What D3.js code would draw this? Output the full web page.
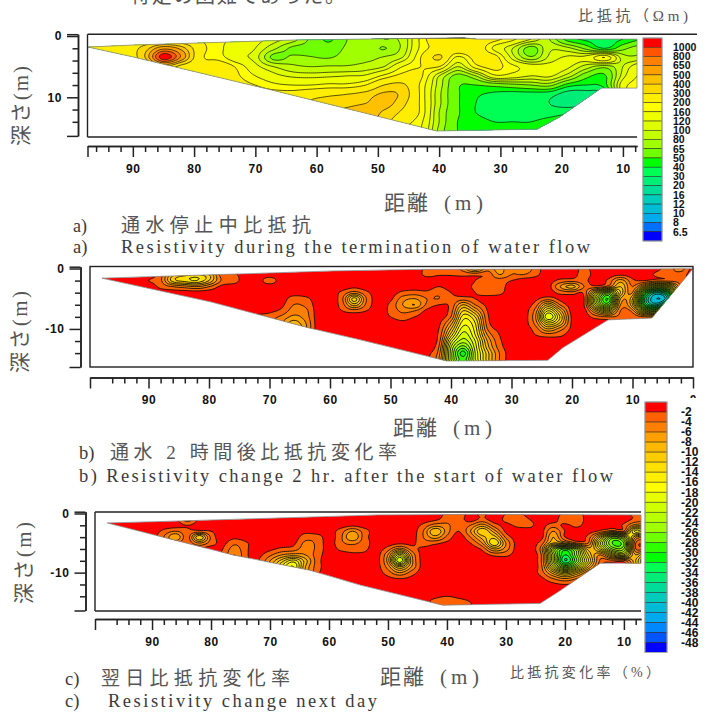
<!DOCTYPE html>
<html><head><meta charset="utf-8">
<script src="https://cdn.jsdelivr.net/npm/d3@7/dist/d3.min.js"></script>
<style>
html,body{margin:0;padding:0;background:#fff}
svg{display:block}
.cjk{font-family:"Liberation Serif","Noto Sans CJK JP",serif;fill:#555}
.en{font-family:"Liberation Serif",serif;fill:#3a3a3a}
.tick text,.lg{font-family:"Liberation Sans",Arial,sans-serif;font-weight:700;fill:#111}
</style></head><body>
<svg id="c" width="709" height="715"></svg>
<script>
// ---------- legend data ----------
const resistivityLevels=[1000,800,650,500,400,300,200,160,120,100,80,65,50,40,30,20,16,12,10,8,6.5];
const resistivityLabels=["1000","800","650","500","400","300","200","160","120","100","80","65","50","40","30","20","16","12","10","8","6.5"];
const resistivityColors=["#ff0000","#ff5500","#ff8000","#ffa000","#ffc000","#ffd800","#ffee00","#ffff00","#eeff00","#ddff00","#c4ff00","#a0ff00","#70ff00","#00ff00","#00ff55","#00ee77","#00dd99","#00ccbb","#00bbd5","#00aaee","#0070ff","#0000ff"];
const changeLevels=[-2,-4,-6,-8,-10,-12,-14,-16,-18,-20,-22,-24,-26,-28,-30,-32,-34,-36,-38,-40,-42,-44,-46,-48];
const changeColors=["#ff0000","#ff6000","#ff8000","#ffa000","#ffb800","#ffcc00","#ffe000","#fff000","#ffff00","#e8ff00","#d0ff00","#b8ff00","#a0ff00","#70ff00","#30ff00","#00ff00","#00ff55","#00ee77","#00dd99","#00ccbb","#00bbd5","#00aaee","#0088ff","#0055ff","#0000ff"];
// ---------- section outlines [distance m, depth m] ----------
const sectionA=[[97.3,1.8],[90,1.47],[75.8,1.03],[63.8,.65],[36,.28],[34,.5],[7.7,.5],[7.7,8.5],[13.5,8.5],[20.3,13.2],[24,15.2],[40.4,15.5],[53,12.35],[68,8.65],[90,3.4]];
const sectionB=[[97.7,1.6],[89.8,1.35],[74.9,.9],[59.5,.4],[45.6,.15],[0,.05],[6.8,8.2],[14,8.5],[21.5,13.1],[24,15.2],[40.7,15.3],[55,11.8],[63.6,9.8],[79.8,5.5]];
const sectionC=[[97.6,1.6],[89.8,1.4],[59.8,.5],[51.9,.25],[35.6,.15],[7.1,.25],[7.1,8.4],[14,8.4],[21.2,13.3],[24.2,15.2],[40.7,15.5],[54.7,12.1],[63.2,9.6],[76.3,7]];
// ---------- panel a: resistivity (ohm m). Columns 97,94,...,7 m; rows depth .5,2,...,15.5 m ----------
const resistivityRows=[
[220,220,220,220,230,220,200,170,150,130,110,90,62,48,65,75,80,85,170,260,270,260,220,170,120,80,45,38,35,40,50],
[220,220,240,350,600,450,230,170,140,120,85,62,60,56,68,75,64,85,170,230,270,260,150,100,58,95,85,60,40,60,75],
[220,220,230,400,1150,600,220,180,130,110,60,68,66,64,72,75,82,100,200,320,150,230,230,110,68,105,125,130,200,90,85],
[220,220,220,250,400,260,220,260,190,130,100,85,80,82,82,88,100,160,200,200,100,180,220,170,140,130,125,90,70,100,150],
[240,240,240,240,240,240,240,280,210,160,130,115,112,115,120,125,170,220,210,100,60,80,150,140,120,125,90,55,48,110,170],
[250,250,250,250,250,250,250,280,230,200,170,160,160,170,170,200,300,320,190,90,52,50,55,60,65,70,45,40,45,140,180],
[250,250,250,250,250,250,250,280,250,240,230,230,260,280,300,340,420,370,190,85,52,42,38,36,36,34,26,26,30,140,180],
[250,250,250,250,250,250,250,280,260,260,270,290,320,350,370,400,450,330,190,85,52,40,36,34,34,30,26,28,30,140,180],
[250,250,250,250,250,250,250,280,300,300,320,340,370,400,430,470,380,280,190,80,52,40,35,34,34,35,38,40,40,140,180],
[250,250,250,250,250,250,250,280,300,300,320,340,370,400,430,450,340,230,170,80,50,45,40,40,40,45,50,50,50,140,180],
[250,250,250,250,250,250,250,280,300,300,320,340,370,400,430,450,320,200,160,75,50,46,45,45,45,50,55,55,55,140,180]
];
// ---------- panels b, c: resistivity change (%), local grids on a 2 m x 1 m lattice.
// Each entry: first column's distance, first row's depth, values (columns run towards smaller distance).
const changePatchesB=[
[90,1,[[-1,-3,-9,-11,-12,-10,-3,-2.5,-1],[-2,-3.5,-11,-13,-14,-10,-4,-3,-1],[-1,-2.5,-4,-5,-6,-4,-1.5,-1,-1],[-1,-1,-1,-1,-1,-1,-1,-1,-1]]],
[72,1,[[-1,-1,-1],[-1,-3,-1],[-1,-1,-1]]],
[74,4,[[-1,-1,-1,-1,-1,-1,-1],[-1,-1,-1,-1,-3,-2.5,-1],[-1,-1,-1,-1.5,-4,-3.5,-1],[-1,-1,-1.5,-2.5,-5,-4.5,-1],[-1,-2.5,-3,-4.5,-6.5,-5,-1],[-1,-2,-4,-6,-9,-6,-1],[-1,-1,-4,-7,-10,-6,-1]]],
[60,3,[[-1,-1,-1.5,-1,-1],[-1,-2.5,-5,-2.5,-1],[-1,-3.5,-13,-4,-1],[-1,-3,-9,-3.5,-1],[-1,-2,-3,-2,-1],[-1,-1,-1,-1,-1]]],
[50,3,[[-1,-1,-1,-1],[-1,-2.5,-3,-2.5],[-1.5,-5,-6,-4],[-2.5,-6,-8,-3.5],[-2.5,-4.5,-4,-1.5],[-2,-3,-2,-1],[-1,-1.5,-1,-1]]],
[44,3,[[-1,-2,-1],[-1.5,-3.5,-2],[-2,-4,-2.5],[-1,-2,-2.5]]],
[44,4,[[-1,-1,-1,-1,-1,-1,-1,-1],[-1,-1,-1.5,-3,-2,-1,-1,-1],[-1,-1,-2.5,-8,-4,-1.5,-1,-1],[-1,-1,-3,-12,-8,-2,-1,-1],[-1,-1,-4,-15,-12,-2.5,-1,-1],[-1,-1.5,-7,-17,-14,-3,-1,-1],[-1,-2,-10,-19,-15,-4,-1.5,-1],[-1,-2.5,-13,-21,-16,-6,-2,-1],[-1,-3,-17,-23,-18,-8,-2.5,-1],[-1,-4,-20,-27,-19,-9,-3,-1],[-1.5,-5,-21,-31,-20,-11,-4,-1],[-1.5,-6,-21,-29,-20,-11,-4,-1],[-1.5,-6,-21,-29,-20,-11,-4,-1]]],
[46,0,[[-1,-2.5,-3,-3,-5,-10,-5,-7,-4,-6,-3,-1],[-1,-2.5,-2.2,-2.2,-2.5,-2.5,-2.5,-6,-4,-4,-2.5,-1],[-1,-1,-1,-1,-1,-2,-3,-3,-2,-1,-1,-1],[-1,-1,-1,-1,-1,-2.5,-3.5,-3,-1,-1,-1,-1],[-1,-1,-1,-1,-1,-2,-3,-2.5,-1,-1,-1,-1]]],
[24,1,[[-1,-1,-1,-1,-1],[-1,-2.5,-3,-2.5,-1],[-1,-6,-9,-4,-1],[-1,-2.5,-3,-2.5,-1],[-1,-1,-1,-1,-1]]],
[28,4,[[-1,-1,-1,-1,-1],[-1,-1.5,-3,-1.5,-1],[-1,-3,-10,-4,-1],[-1,-5,-16,-9,-1],[-1,-6,-20,-12,-1.5],[-1,-5,-14,-10,-1.5],[-1,-3,-8,-5,-1.5],[-1,-2,-3,-2.5,-1],[-1,-1,-1,-1,-1]]],
[18,1,[[-1,-1,-1,-1.5,-1,-1],[-1,-1,-2.5,-7,-2.5,-1],[-1,-2.5,-5,-10,-4,-1],[-1.5,-14,-24,-12,-3,-1.5],[-2,-20,-30,-8,-3,-3],[-2,-18,-26,-6,-1,-4],[-1,-9,-14,-4,-1,-3],[-1,-3,-4,-3.5,-2.5,-2.5],[-1,-1,-1,-2.5,-2.5,-2.5]]],
[10,2,[[-1,-2,-3,-3,-3],[-2.5,-12,-20,-16,-4],[-6,-28,-38,-30,-5],[-10,-34,-42,-36,-5],[-10,-32,-38,-26,-3],[-5,-18,-22,-8,-1],[-2.5,-4,-4,-2,-1]]],
[6,0,[[-1.5,-3,-5,-1],[-2.5,-3.5,-3,-1],[-3,-3,-1,-1]]],
[20,0,[[-1,-2.5,-1],[-1,-3,-1],[-1,-1,-1]]]
];
const changePatchesC=[
[86,0,[[-1,-3,-1],[-1.5,-5,-1.5],[-1,-2,-1],[-1,-1,-1]]],
[90,3,[[-1,-2.5,-4,-2.5],[-1,-4,-8,-3],[-1,-2.5,-4,-1.5],[-1,-1,-1,-1]]],
[84,3,[[-1,-2.5,-2,-1],[-2.5,-12,-3.5,-1],[-2.5,-6,-3,-1],[-1,-1.5,-1,-1]]],
[78,4,[[-1,-1.5,-1,-1],[-1.5,-3.5,-2.2,-1],[-2,-5,-2.3,-1],[-2.5,-6,-2.3,-1],[-2.5,-6,-2.3,-1]]],
[74,3,[[-1,-1,-1,-1,-1,-1.5,-1,-1],[-1,-1,-1,-1,-1,-3,-3,-1],[-1,-1,-1,-1,-1.5,-4.5,-3.5,-1],[-1,-1,-1.5,-2.5,-3,-5,-3.5,-1],[-1,-1.5,-3.5,-6,-7,-6,-3,-1],[-1,-1.9,-6,-11,-15,-9,-3,-1],[-1,-1.9,-7,-14,-18,-8,-3,-1],[-1,-1.9,-6,-12,-14,-7,-2.5,-1]]],
[60,2,[[-1,-1,-1.5,-1,-1],[-1,-3,-6,-3,-1],[-1,-3.5,-8,-3,-1],[-1,-3.5,-4.5,-3,-1],[-1,-2.5,-3,-2.5,-1],[-1,-1,-1.5,-1.5,-1],[-1,-1,-1,-1,-1]]],
[52,5,[[-1,-1,-1.5,-1,-1],[-1,-3,-7,-3,-1],[-1,-6,-17,-6,-1],[-1,-7,-22,-7,-1],[-1,-5,-12,-6,-1],[-1,-3,-6,-3,-1],[-1,-1.5,-2,-1.5,-1],[-1,-1,-1,-1,-1]]],
[46,0,[[-1,-1,-1,-2.5,-3,-1.5,-1],[-1,-1,-1.5,-3,-3,-1,-1],[-1,-2.5,-5,-4.5,-2.5,-1,-1],[-1,-4,-10,-5,-2,-1,-1],[-1,-4,-7,-3.5,-1,-1,-1],[-1.5,-3,-2.5,-1.5,-1,-1,-1],[-1,-1.5,-1,-1,-1,-1,-1]]],
[38,0,[[-1,-1,-2.5,-1,-1,-1],[-1,-1,-2.5,-1,-1,-1],[-1,-4,-7,-3,-1,-1],[-1.5,-6,-12,-7,-1.5,-1],[-1,-4,-9,-11,-3.5,-1],[-1,-2,-6,-14,-6,-1],[-1,-1,-2.5,-8,-5,-1],[-1,-1,-1,-2.5,-2.5,-1],[-1,-1,-1,-1,-1,-1]]],
[32,0,[[-1,-2,-2.5,-1,-1],[-1,-2.5,-3.5,-2,-1],[-1,-1.5,-2.5,-2.5,-1],[-1,-1,-1,-1,-1]]],
[26,1,[[-1,-1,-1,-1,-1,-1,-1],[-1,-1.2,-3,-1.5,-1,-1,-1],[-1,-1.2,-6,-2,-1,-1,-1],[-1,-1.2,-8,-2,-1,-1,-1],[-1,-3,-10,-8,-4,-2,-1],[-1,-5,-22,-28,-22,-9,-2.5],[-1,-4,-20,-32,-24,-12,-3.5],[-1,-4,-20,-34,-26,-14,-3.5],[-1,-3.5,-16,-26,-20,-10,-2.5],[-1,-3,-9,-14,-10,-4,-1],[-1,-1.5,-4,-6,-4,-1.5,-1],[-1,-1,-1.5,-2,-1.5,-1,-1]]],
[18,2,[[-1,-1,-1,-1,-1,-1],[-1,-1,-2.5,-5,-3,-1],[-1,-3,-12,-24,-20,-3],[-1,-4,-18,-28,-26,-4],[-1,-3.5,-14,-24,-24,-4],[-1,-2.5,-6,-14,-18,-3],[-1,-1.5,-3,-3,-3,-1.5],[-1,-1,-1,-1,-1,-1]]],
[12,0,[[-1,-1,-3,-3,-3],[-1,-1,-2.5,-3,-3],[-1,-2.5,-7,-7,-6],[-1,-4,-17,-12,-8],[-1,-3,-8,-6,-5],[-1,-2.5,-3,-3,-3],[-1,-1,-2.5,-6,-10],[-1,-1,-8,-16,-20],[-1,-1,-10,-20,-24],[-1,-1,-8,-16,-20]]],
[22,0,[[-1,-2.5,-3,-1],[-1,-3.5,-3.5,-1],[-1,-1.5,-2.5,-1],[-1,-1,-1,-1]]],
[44,13,[[-1,-1,-1,-1,-1],[-1,-1.5,-2,-1.5,-1],[-1,-3,-3.5,-3,-2],[-1,-3,-3.5,-3,-2]]]
];
// ---------- axis text ----------
const majorTicks=[90,80,70,60,50,40,30,20,10];
const minorTicks=d3.range(2,98,2).filter(d=>d%10);
const depthMinor=[2,4,6,8,12,14];

const svg=d3.select("#c");
// ---- grid helpers -------------------------------------------------
const cr=(a,b,c,d,t)=>0.5*(2*b+(c-a)*t+(2*a-5*b+4*c-d)*t*t+(3*b-a-3*c+d)*t*t*t);
function upsample(grid,fx,fy){
  const R=grid.length,C=grid[0].length,n=(C-1)*fx+1,m=(R-1)*fy+1,out=new Float64Array(n*m);
  const g=(r,c)=>grid[Math.max(0,Math.min(R-1,r))][Math.max(0,Math.min(C-1,c))];
  for(let j=0;j<m;j++){const gy=j/fy,r=Math.floor(gy),ty=gy-r;
    for(let i=0;i<n;i++){const gx=i/fx,c=Math.floor(gx),tx=gx-c;
      const col=[-1,0,1,2].map(k=>cr(g(r+k,c-1),g(r+k,c),g(r+k,c+1),g(r+k,c+2),tx));
      out[j*n+i]=cr(col[0],col[1],col[2],col[3],ty);}}
  return {values:out,n,m};
}
function drawField(g,P,field,d0,dStep,z0,zStep,fx,fy,thresholds,colors,poly,lw){
  const up=upsample(field,fx,fy);
  const tr=d3.geoTransform({point(x,y){this.stream.point(P.x(d0+(x-.5)*dStep/fx),P.y(z0+(y-.5)*zStep/fy));}});
  const path=d3.geoPath(tr);
  const id="clip"+P.name;
  const line=d3.line().x(d=>P.x(d[0])).y(d=>P.y(d[1])).curve(d3.curveLinearClosed);
  g.append("clipPath").attr("id",id).append("path").attr("d",line(poly));
  const body=g.append("g").attr("clip-path",`url(#${id})`);
  body.append("path").attr("d",line(poly)).attr("fill",colors[0]);
  const cs=d3.contours().size([up.n,up.m]).thresholds(thresholds)(up.values);
  cs.forEach((c,i)=>body.append("path").attr("d",path(c)).attr("fill",colors[i+1])
      .attr("stroke","#111").attr("stroke-width",lw).attr("stroke-linejoin","round"));
  g.append("path").attr("d",line(poly)).attr("fill","none").attr("stroke","#888").attr("stroke-width",.8);
}
function patchGrid(patches){
  const ds=d3.range(100,-2,-2), zs=d3.range(0,18);
  const grid=zs.map(()=>ds.map(()=>1));
  patches.forEach(([d,z,rows])=>rows.forEach((row,r)=>row.forEach((v,c)=>{
    const ri=z+r,ci=(100-d)/2+c;
    if(grid[ri]&&grid[ri][ci]!==undefined) grid[ri][ci]=Math.max(grid[ri][ci],-v);
  })));
  return grid;
}
function axes(g,P,yLabel){
  const axX=g.append("g").attr("transform",`translate(0,${P.axisY})`);
  const minor=d3.axisBottom(P.x).tickValues(minorTicks.filter(d=>d<P.x.domain()[0]&&d>P.x.domain()[1]))
     .tickSize(6).tickSizeOuter(0).tickFormat("");
  const major=d3.axisBottom(P.x).tickValues(majorTicks.concat(P.extraMajor)).tickSize(11).tickSizeOuter(0).tickPadding(7)
     .tickFormat(d=>majorTicks.includes(d)||d===0?d:"");
  axX.append("g").call(minor); axX.append("g").call(major);
  const axY=g.append("g").attr("transform",`translate(${P.axisX},0)`);
  axY.append("g").call(d3.axisLeft(P.y).tickValues(depthMinor).tickSize(5.5).tickSizeOuter(0).tickFormat(""));
  axY.append("g").call(d3.axisLeft(P.y).tickValues([P.y.domain()[0],0,10,P.y.domain()[1]]).tickSize(11).tickSizeOuter(0).tickPadding(5)
     .tickFormat(d=>d===0?"0":d===10?yLabel:""));
  g.selectAll(".domain,.tick line").attr("stroke","#222").attr("stroke-width",1.5);
  g.selectAll(".tick text").attr("font-size",12).attr("letter-spacing",.6).attr("font-family","Liberation Sans,Arial,sans-serif");
}
function txt(cls,x,y,s,size,len){
  const t=svg.append("text").attr("class",cls).attr("x",x).attr("y",y).attr("font-size",size).text(s);
  if(len) t.attr("textLength",len).attr("lengthAdjust","spacing");
  return t;
}
function vtitle(x,y,len){
  svg.append("text").attr("class","cjk").attr("font-size",21).attr("text-anchor","start")
    .attr("transform",`translate(${x},${y}) rotate(-90)`).attr("textLength",len).attr("lengthAdjust","spacing").text("深さ(m)");
}
function xtitle(x,y){
  txt("cjk",x,y,"距離",21,44);
  txt("cjk",x+60,y,"(",21);
  txt("cjk",x+71,y,"m",21,19);
  txt("cjk",x+92,y,")",21);
}

// ---- panels ---------------------------------------------------------
const PA={name:"A",x:d3.scaleLinear([97.4,7.7],[87.5,637]),y:d3.scaleLinear([-.3,16.3],[34.2,135.9]),axisY:146,axisX:78,extraMajor:[97.4]};
const PB={name:"B",x:d3.scaleLinear([99.67,0],[90,693]),y:d3.scaleLinear([-.3,16.3],[266.7,367]),axisY:377.5,axisX:80.5,extraMajor:[99.67,0]};
const PC={name:"C",x:d3.scaleLinear([99.67,7.1],[95,641]),y:d3.scaleLinear([-.3,16.4],[511.7,610.5]),axisY:619,axisX:85.5,extraMajor:[99.67]};

const gA=svg.append("g"),gB=svg.append("g"),gC=svg.append("g");
drawField(gA,PA,resistivityRows.map(r=>r.map(Math.log10)),97,-3,.5,1.5,9,5,
  resistivityLevels.slice().reverse().map(Math.log10),resistivityColors.slice().reverse(),sectionA,.7);
const thrChange=changeLevels.map(v=>-v);
drawField(gB,PB,patchGrid(changePatchesB),100,-2,0,1,6,3,thrChange,changeColors,sectionB,.9);
drawField(gC,PC,patchGrid(changePatchesC),100,-2,0,1,6,3,thrChange,changeColors,sectionC,.9);
axes(gA,PA,"10"); axes(gB,PB,"-10"); axes(gC,PC,"-10");

// frames
const ln=(x1,y1,x2,y2)=>svg.append("line").attr("x1",x1).attr("y1",y1).attr("x2",x2).attr("y2",y2).attr("stroke","#222").attr("stroke-width",1.4);
ln(87.5,34.3,697,34.3);ln(87.5,34.3,87.5,137);ln(87.5,137,637,137);
svg.append("rect").attr("x",90).attr("y",266.5).attr("width",603).attr("height",100.5).attr("fill","none").attr("stroke","#222").attr("stroke-width",1.4);
ln(95,512,641,512);ln(95,512,95,611);ln(95,611,641,611);

// legends
function legend(colors,labels,x,w,y0,y1,lx,size){
  const b=d3.scaleBand(colors.map((_,i)=>i),[y0,y1]);
  colors.forEach((c,i)=>svg.append("rect").attr("x",x).attr("y",b(i)).attr("width",w).attr("height",b.bandwidth())
     .attr("fill",c).attr("stroke","#222").attr("stroke-width",.5));
  svg.append("rect").attr("x",x).attr("y",y0).attr("width",w).attr("height",y1-y0).attr("fill","none").attr("stroke","#aaa").attr("stroke-width",1);
  labels.forEach((s,i)=>svg.append("text").attr("class","lg").attr("x",lx).attr("y",b(i)+b.bandwidth()).attr("dy",".36em").attr("font-size",size).text(s));
}
legend(resistivityColors,resistivityLabels,643,19,38,241,673,10.5);
svg.append("rect").attr("x",640).attr("y",398).attr("width",69).attr("height",8).attr("fill","#fff");
legend(changeColors,changeLevels.map(String),645,22,402,652.5,681,12);

// text
txt("cjk",130,3,"特定の困難であった。",20,215);
txt("cjk",578,21,"比抵抗（Ωm)",15,110);
txt("cjk",510,677,"比抵抗変化率（%）",14,150);
vtitle(28,146,80); vtitle(27,373,82); vtitle(31,604,82);
xtitle(384,210); xtitle(393,435); xtitle(380,684);
txt("en",73,232,"a)",18);
txt("cjk",121,232,"通水停止中比抵抗",19,190);
txt("en",73,253,"a)",18.5);
txt("en",121,253,"Resistivity during the termination of water flow",18.5,469);
txt("en",79,459,"b)",18.5);
txt("cjk",110,459,"通水 2 時間後比抵抗変化率",19,287);
txt("en",79,482,"b) Resistivity change 2 hr. after the start of water flow",18.5,534);
txt("en",65,685,"c)",18.5);
txt("cjk",101,685,"翌日比抵抗変化率",19,189);
txt("en",65,707,"c)",18.5);
txt("en",108,707,"Resistivity change next day",18.5,269);
</script>
</body></html>
